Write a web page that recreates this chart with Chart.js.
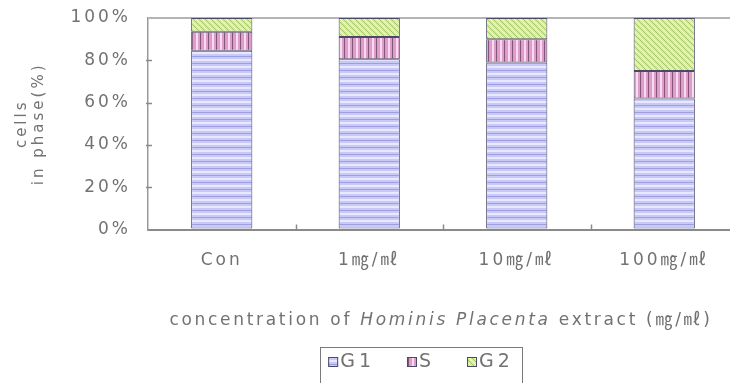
<!DOCTYPE html>
<html>
<head>
<meta charset="utf-8">
<script src="https://cdn.jsdelivr.net/npm/chart.js@4/dist/chart.umd.min.js"></script>
<style>
  html, body { margin: 0; padding: 0; background: #fff; overflow: hidden; }
  #wrap { width: 740px; height: 383px; }
</style>
</head>
<body>
<div id="wrap"><canvas id="c" width="740" height="383"></canvas></div>
<script>
// Cell-cycle distribution (% of cells in each phase) per extract concentration
const categories = ['Con', '1㎎/㎖', '10㎎/㎖', '100㎎/㎖'];
const seriesNames = ['G1', 'S', 'G2'];
const g1Values = [84.5, 80.5, 79, 62];
const sValues = [9, 10.5, 11, 13];
const g2Values = [6.5, 9, 10, 25];
const yTickValues = [0, 20, 40, 60, 80, 100];
const yTitleLines = ['cells', 'in phase(%)'];
const xTitleParts = [
  ['concentration of ', false],
  ['Hominis Placenta', true],
  [' extract (㎎/㎖)', false]
];

const FONT = "'DejaVu Sans', 'Noto Sans CJK KR', sans-serif";
const TEXT = '#727272';
const SPACING = '3px';

function makePattern(w, h, paint) {
  const c = document.createElement('canvas');
  c.width = w; c.height = h;
  const x = c.getContext('2d');
  paint(x, w, h);
  return x.createPattern(c, 'repeat');
}

// horizontal stripes on lavender
const g1Fill = makePattern(8, 7, (x, w, h) => {
  x.fillStyle = '#c9c9f8'; x.fillRect(0, 0, w, h);
  x.fillStyle = '#9e9ee0'; x.fillRect(0, 0, w, 1);
  x.fillStyle = '#e8e8ff'; x.fillRect(0, 3, w, 2);
});
// vertical stripes on pink
const sFill = makePattern(8, 8, (x, w, h) => {
  x.fillStyle = '#dc9ec8'; x.fillRect(0, 0, w, h);
  x.fillStyle = '#86527c'; x.fillRect(0, 0, 1, h);
  x.fillStyle = '#f6dcee'; x.fillRect(4, 0, 2, h);
});
// diagonal stripes on yellow-green
const g2Fill = makePattern(6, 6, (x, w, h) => {
  for (let py = 0; py < h; py++) {
    for (let px = 0; px < w; px++) {
      const d = ((px - py) % 6 + 6) % 6;
      x.fillStyle = d === 0 ? '#a6c46c' : (d === 3 ? '#f0f9d4' : '#d6ee9e');
      x.fillRect(px, py, 1, 1);
    }
  }
});

const BAR_BORDER = '#4a4a66';

// letter spacing for all chart text
const spacingPlugin = {
  id: 'spacing',
  beforeUpdate(chart) { chart.ctx.letterSpacing = SPACING; },
  beforeDraw(chart) { chart.ctx.letterSpacing = SPACING; }
};

// short tick marks pointing into the plot area
const innerTicks = {
  id: 'innerTicks',
  afterDraw(chart) {
    const ctx = chart.ctx, a = chart.chartArea;
    const xs = chart.scales.x, ys = chart.scales.y;
    ctx.save();
    ctx.strokeStyle = '#8a8a8a';
    ctx.lineWidth = 1.5;
    ctx.beginPath();
    ys.ticks.forEach(t => {
      if (t.value === 0 || t.value === 100) return;
      const y = Math.round(ys.getPixelForValue(t.value)) + 0.5;
      ctx.moveTo(a.left - 2, y); ctx.lineTo(a.left + 4, y);
    });
    const step = xs.width / categories.length;
    for (let i = 1; i < categories.length; i++) {
      const x = Math.round(a.left + i * step) + 0.5;
      ctx.moveTo(x, a.bottom); ctx.lineTo(x, a.bottom - 5);
    }
    ctx.stroke();
    ctx.restore();
  }
};

// axis title with italic species name
const xTitlePlugin = {
  id: 'xTitle',
  afterDraw(chart) {
    const ctx = chart.ctx, a = chart.chartArea;
    ctx.save();
    ctx.letterSpacing = '2.7px';
    ctx.fillStyle = TEXT;
    ctx.textBaseline = 'middle';
    ctx.textAlign = 'left';
    const fonts = xTitleParts.map(p => (p[1] ? 'italic ' : '') + '17px ' + FONT);
    let total = 0;
    const widths = xTitleParts.map((p, i) => { ctx.font = fonts[i]; const w = ctx.measureText(p[0]).width; total += w; return w; });
    let x = (a.left + a.right) / 2 - 2 - total / 2;
    const y = 321;
    xTitleParts.forEach((p, i) => { ctx.font = fonts[i]; ctx.fillText(p[0], x, y); x += widths[i]; });
    ctx.restore();
  }
};

// boxed legend below the axis title
const boxLegend = {
  id: 'boxLegend',
  afterDraw(chart) {
    const ctx = chart.ctx;
    ctx.save();
    ctx.letterSpacing = '4px';
    ctx.font = '19px ' + FONT;
    ctx.textBaseline = 'middle';
    ctx.textAlign = 'left';
    const sw = 10, gap = 2, itemGap = 32, padL = 8, padR = 8;
    const items = chart.data.datasets.map(ds => ({ label: ds.label, fill: ds.backgroundColor, w: ctx.measureText(ds.label).width }));
    let total = 0;
    items.forEach((it, i) => { total += sw + gap + it.w + (i < items.length - 1 ? itemGap : 0); });
    const cx = 421, cy = 362;
    const boxL = cx - total / 2 - padL, boxR = cx + total / 2 + padR;
    ctx.strokeStyle = '#7a7a7a';
    ctx.lineWidth = 1;
    ctx.strokeRect(Math.round(boxL) + 0.5, 347.5, Math.round(boxR - boxL), 60);
    let x = cx - total / 2;
    items.forEach(it => {
      ctx.fillStyle = it.fill;
      ctx.fillRect(x, cy - sw / 2, sw, sw);
      ctx.strokeStyle = BAR_BORDER;
      ctx.strokeRect(x + 0.5, cy - sw / 2 + 0.5, sw - 1, sw - 1);
      ctx.fillStyle = TEXT;
      ctx.fillText(it.label, x + sw + gap, cy);
      x += sw + gap + it.w + itemGap;
    });
    ctx.restore();
  }
};

const mkSet = (label, data, fill) => ({
  label, data,
  backgroundColor: fill,
  borderColor: BAR_BORDER,
  borderWidth: 1,
  borderSkipped: false,
  barPercentage: 0.415,
  categoryPercentage: 1.0
});

new Chart(document.getElementById('c'), {
  type: 'bar',
  data: {
    labels: categories,
    datasets: [
      mkSet(seriesNames[0], g1Values, g1Fill),
      mkSet(seriesNames[1], sValues, sFill),
      mkSet(seriesNames[2], g2Values, g2Fill)
    ]
  },
  options: {
    responsive: false,
    animation: false,
    layout: { padding: { top: 18, right: 2, bottom: 91, left: 0 } },
    plugins: { legend: { display: false }, tooltip: { enabled: false } },
    scales: {
      x: {
        stacked: true,
        grid: { display: false, drawTicks: false },
        border: { display: true, color: '#8a8a8a', width: 2 },
        ticks: { color: TEXT, font: { family: FONT, size: 17 }, padding: 21, maxRotation: 0, autoSkip: false }
      },
      y: {
        stacked: true,
        min: 0, max: 100,
        afterBuildTicks(scale) { scale.ticks = yTickValues.map(v => ({ value: v })); },
        afterFit(scale) { scale.width = 148; scale.paddingTop = 0; scale.paddingBottom = 0; },
        grid: {
          drawTicks: false,
          color: ctx => (ctx.tick && ctx.tick.value === 100 ? '#b4b4b4' : 'rgba(0,0,0,0)'),
          lineWidth: 2
        },
        border: { display: true, color: '#9a9a9a', width: 1.5 },
        ticks: { color: TEXT, font: { family: FONT, size: 17 }, padding: 17, callback: v => v + '%' },
        title: {
          display: true,
          text: yTitleLines,
          color: TEXT,
          font: { family: FONT, size: 15, lineHeight: 1.13 },
          padding: { top: 14, bottom: 0 }
        }
      }
    }
  },
  plugins: [spacingPlugin, innerTicks, xTitlePlugin, boxLegend]
});
</script>
</body>
</html>
